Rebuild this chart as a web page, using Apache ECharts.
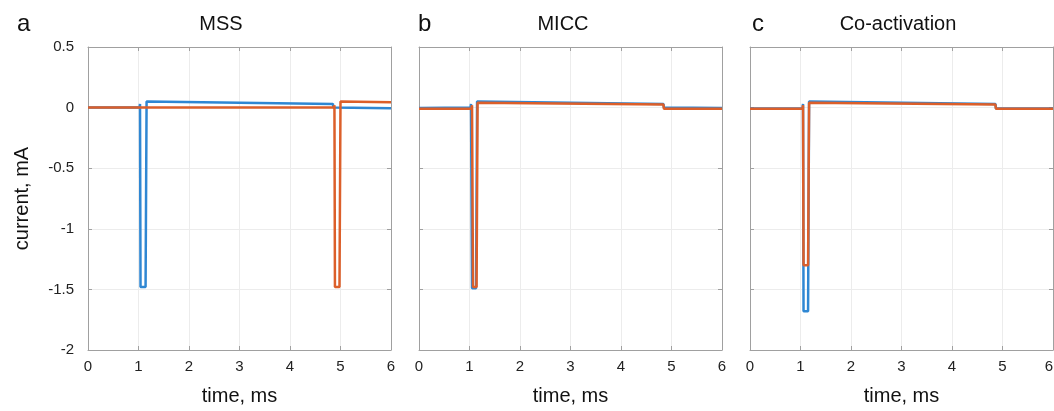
<!DOCTYPE html>
<html>
<head>
<meta charset="utf-8">
<script src="https://cdn.jsdelivr.net/npm/echarts@6/dist/echarts.min.js"></script>
<style>
  html, body { margin: 0; padding: 0; background: #fff; }
  #chart { width: 1054px; height: 411px; }
</style>
</head>
<body>
<div id="chart"></div>
<script>
// panel titles / letters
const panelTitles = ['MSS', 'MICC', 'Co-activation']
const panelLetters = ['a', 'b', 'c']
const xTicks = [0, 1, 2, 3, 4, 5, 6]
const yTicks = [-2, -1.5, -1, -0.5, 0, 0.5]

// traces: time (ms) and current (mA)
const blueA_t = [0, 1.02, 1.03, 1.04, 1.14, 1.16, 4.85, 4.86, 6]
const blueA_v = [0, 0, 0.03, -1.48, -1.48, 0.05, 0.03, 0, -0.005]
const orangeA_t = [0, 4.87, 4.88, 4.89, 4.98, 5.0, 6]
const orangeA_v = [0, 0, 0.02, -1.48, -1.48, 0.05, 0.045]

const blueB_t = [0, 1.02, 1.03, 1.05, 1.13, 1.15, 4.84, 4.85, 6]
const blueB_v = [-0.003, 0, 0.03, -1.49, -1.49, 0.05, 0.03, 0, -0.003]
const orangeB_t = [0, 1.04, 1.05, 1.07, 1.14, 1.16, 4.84, 4.85, 6]
const orangeB_v = [-0.01, -0.01, 0.02, -1.48, -1.48, 0.04, 0.025, -0.01, -0.01]

const blueC_t = [0, 1.04, 1.05, 1.06, 1.15, 1.17, 4.86, 4.87, 6]
const blueC_v = [-0.008, -0.006, 0.03, -1.68, -1.68, 0.05, 0.03, -0.007, -0.007]
const orangeC_t = [0, 1.04, 1.05, 1.06, 1.15, 1.17, 4.86, 4.87, 6]
const orangeC_v = [-0.01, -0.01, 0.02, -1.3, -1.3, 0.04, 0.025, -0.01, -0.01]

const traces = [
  [[blueA_t, blueA_v], [orangeA_t, orangeA_v]],
  [[blueB_t, blueB_v], [orangeB_t, orangeB_v]],
  [[blueC_t, blueC_v], [orangeC_t, orangeC_v]]
]

const colors = ['#2f87d3', '#dc5f2a']
const gridLefts = [88, 419, 750]
const titleCenters = [221, 563, 898]
const letterLefts = [17, 418, 752]
const plotW = 303
const plotTop = 47
const plotH = 303
const font = 'Liberation Sans, Arial, Helvetica, sans-serif'
const boxColor = '#a0a0a0'

const zip = (t, v) => t.map((x, i) => [x, v[i]])

const option = {
  backgroundColor: '#fff',
  animation: false,
  title: [],
  grid: [],
  xAxis: [],
  yAxis: [],
  series: []
}

gridLefts.forEach((left, i) => {
  option.title.push({
    text: panelTitles[i],
    left: titleCenters[i],
    top: 14,
    padding: 0,
    textAlign: 'center',
    textStyle: { fontFamily: font, fontSize: 20, fontWeight: 'normal', color: '#111' }
  })
  option.title.push({
    text: panelLetters[i],
    left: letterLefts[i],
    top: 12,
    padding: 0,
    textStyle: { fontFamily: font, fontSize: 24, fontWeight: 'normal', color: '#111' }
  })

  option.grid.push({
    left,
    top: plotTop,
    width: plotW,
    height: plotH,
    containLabel: false,
    outerBoundsMode: 'none'
  })

  // bottom axis
  option.xAxis.push({
    type: 'value',
    gridIndex: i,
    min: xTicks[0],
    max: xTicks[xTicks.length - 1],
    interval: 1,
    name: 'time, ms',
    nameLocation: 'middle',
    nameGap: 36,
    nameTextStyle: { fontFamily: font, fontSize: 20, color: '#111' },
    axisLine: { show: true, onZero: false, lineStyle: { color: boxColor, width: 1 } },
    axisTick: { show: true, inside: true, length: 4, lineStyle: { color: boxColor } },
    axisLabel: {
      fontFamily: font, fontSize: 15, color: '#222', margin: 9,
      alignMaxLabel: i === 2 ? 'right' : null
    },
    splitLine: { show: true, lineStyle: { color: '#ececec', width: 1 } }
  })
  // top box edge
  option.xAxis.push({
    type: 'value',
    gridIndex: i,
    position: 'top',
    min: xTicks[0],
    max: xTicks[xTicks.length - 1],
    interval: 1,
    axisLine: { show: true, onZero: false, lineStyle: { color: boxColor, width: 1 } },
    axisTick: { show: true, inside: true, length: 4, lineStyle: { color: boxColor } },
    axisLabel: { show: false },
    splitLine: { show: false }
  })

  option.yAxis.push({
    type: 'value',
    gridIndex: i,
    min: yTicks[0],
    max: yTicks[yTicks.length - 1],
    interval: 0.5,
    name: i === 0 ? 'current, mA' : '',
    nameLocation: 'middle',
    nameGap: 56,
    nameTextStyle: { fontFamily: font, fontSize: 20, color: '#111' },
    axisLine: { show: true, onZero: false, lineStyle: { color: boxColor, width: 1 } },
    axisTick: { show: true, inside: true, length: 4, lineStyle: { color: boxColor } },
    axisLabel: { show: i === 0, fontFamily: font, fontSize: 15, color: '#222', margin: 14 },
    splitLine: { show: true, lineStyle: { color: '#ececec', width: 1 } }
  })
  // right box edge
  option.yAxis.push({
    type: 'value',
    gridIndex: i,
    position: 'right',
    min: yTicks[0],
    max: yTicks[yTicks.length - 1],
    interval: 0.5,
    axisLine: { show: true, onZero: false, lineStyle: { color: boxColor, width: 1 } },
    axisTick: { show: true, inside: true, length: 4, lineStyle: { color: boxColor } },
    axisLabel: { show: false },
    splitLine: { show: false }
  })

  traces[i].forEach((tr, k) => {
    option.series.push({
      type: 'line',
      xAxisIndex: i * 2,
      yAxisIndex: i * 2,
      data: zip(tr[0], tr[1]),
      showSymbol: false,
      symbol: 'none',
      lineStyle: { color: colors[k], width: 2.5 },
      z: 2 + k
    })
  })
})

const chart = echarts.init(document.getElementById('chart'), null, { renderer: 'canvas' })
chart.setOption(option)
</script>
</body>
</html>
